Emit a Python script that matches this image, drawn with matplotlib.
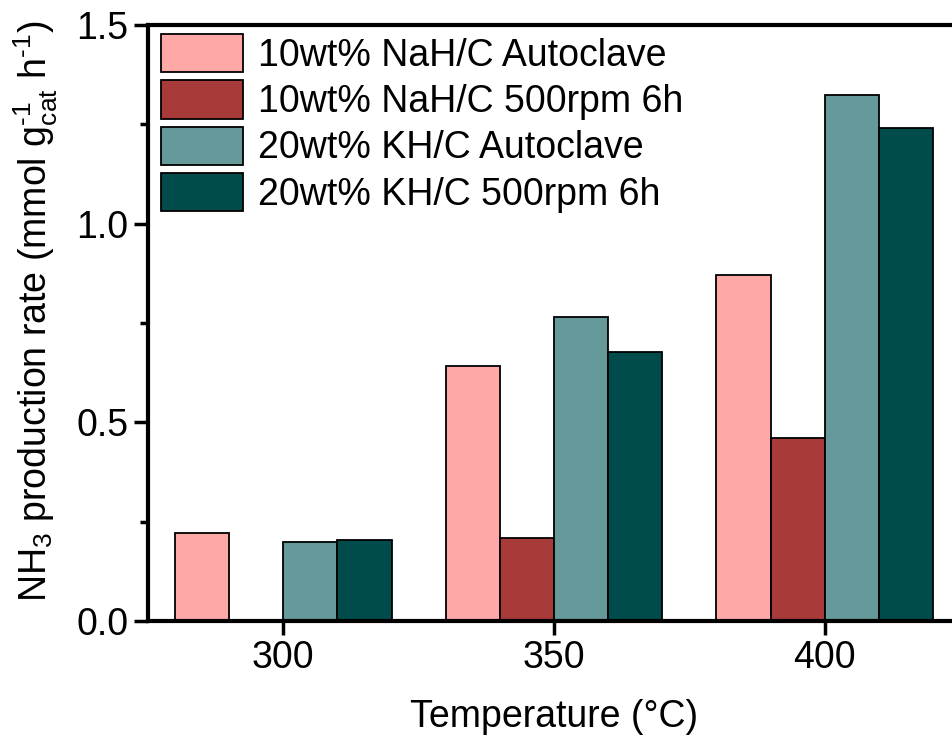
import numpy as np
import matplotlib
matplotlib.use("Agg")
import matplotlib.pyplot as plt
from matplotlib.ticker import MultipleLocator, FormatStrFormatter

plt.rcParams['font.family'] = ['Liberation Sans', 'DejaVu Sans']
plt.rcParams['mathtext.fontset'] = 'custom'
plt.rcParams['mathtext.rm'] = 'Liberation Sans'
plt.rcParams['mathtext.it'] = 'Liberation Sans'
plt.rcParams['mathtext.default'] = 'regular'

temperatures = [300, 350, 400]
series_labels = [
    "10wt% NaH/C Autoclave",
    "10wt% NaH/C 500rpm 6h",
    "20wt% KH/C Autoclave",
    "20wt% KH/C 500rpm 6h",
]
nah_autoclave = [0.222, 0.643, 0.870]
nah_milled = [0.0, 0.208, 0.460]
kh_autoclave = [0.198, 0.766, 1.325]
kh_milled = [0.205, 0.678, 1.240]
colors = ["#FFA8A8", "#A83A3A", "#669999", "#004C4C"]

series = [nah_autoclave, nah_milled, kh_autoclave, kh_milled]

FS = 27

fig = plt.figure(figsize=(9.53, 7.41), dpi=100)
ax = fig.add_axes([148 / 953, 1 - 621 / 741, (960 - 148) / 953, (621 - 25) / 741])

bar_w = 10
offsets = [-15, -5, 5, 15]
x = np.array(temperatures, dtype=float)
for vals, off, col, lab in zip(series, offsets, colors, series_labels):
    ax.bar(x + off, vals, width=bar_w, color=col, edgecolor="black",
           linewidth=1.3, label=lab)

ax.set_xlim(275, 425)
ax.set_ylim(0, 1.5)
ax.set_xticks(temperatures)
ax.yaxis.set_major_locator(MultipleLocator(0.5))
ax.yaxis.set_minor_locator(MultipleLocator(0.25))
ax.yaxis.set_major_formatter(FormatStrFormatter('%.1f'))

for side in ["left", "bottom", "top"]:
    ax.spines[side].set_linewidth(3)
ax.spines["right"].set_visible(False)

ax.tick_params(axis="both", which="major", direction="out", length=10,
               width=2.5, labelsize=FS, pad=4)
ax.tick_params(axis="y", which="minor", direction="out", length=6, width=2.5)
ax.tick_params(axis="x", which="minor", bottom=False)

ax.set_xlabel("Temperature (°C)", fontsize=FS, labelpad=16)
ax.set_ylabel(r"NH$_3$ production rate (mmol g$_{cat}^{\text{-}1}$ h$^{\text{-}1}$)",
              fontsize=FS)
ax.yaxis.set_label_coords(-0.108, 0.52)

ax.legend(loc="upper left", bbox_to_anchor=(13 / 812, 1 - 9 / 596),
          frameon=False, fontsize=FS, handlelength=2.2, handleheight=1.2,
          handletextpad=0.4, labelspacing=0.17, borderaxespad=0, borderpad=0)

fig.savefig("out.png", dpi=100)
